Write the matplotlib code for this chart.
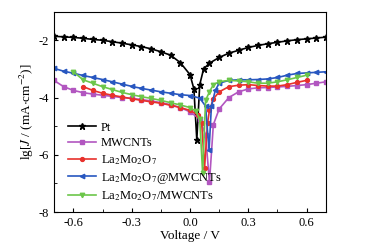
import matplotlib
matplotlib.use('Agg')
import matplotlib.pyplot as plt
from matplotlib.ticker import MultipleLocator

plt.rcParams['font.family'] = ['Liberation Serif', 'DejaVu Serif']
plt.rcParams['mathtext.fontset'] = 'stix'

# Pt
pt_v = [-0.70, -0.65, -0.60, -0.55, -0.50, -0.45, -0.40, -0.35, -0.30, -0.25, -0.20, -0.15,
        -0.10, -0.05, 0.00, 0.02, 0.035, 0.05, 0.07, 0.10, 0.15, 0.20, 0.25, 0.30, 0.35,
        0.40, 0.45, 0.50, 0.55, 0.60, 0.65, 0.70]
pt_j = [-1.86, -1.88, -1.90, -1.93, -1.97, -2.00, -2.05, -2.10, -2.16, -2.22, -2.30, -2.40,
        -2.52, -2.78, -3.20, -3.70, -5.48, -3.55, -3.00, -2.80, -2.60, -2.45, -2.35, -2.25, -2.18,
        -2.12, -2.07, -2.02, -1.98, -1.95, -1.92, -1.89]

# MWCNTs
mw_v = [-0.70, -0.65, -0.60, -0.55, -0.50, -0.45, -0.40, -0.35, -0.30, -0.25, -0.20, -0.15,
        -0.10, -0.05, 0.00, 0.05, 0.08, 0.10, 0.12, 0.15, 0.20, 0.25, 0.30, 0.35, 0.40,
        0.45, 0.50, 0.55, 0.60, 0.65, 0.70]
mw_j = [-3.40, -3.62, -3.75, -3.83, -3.88, -3.92, -3.96, -4.00, -4.03, -4.07, -4.12, -4.18,
        -4.25, -4.35, -4.50, -4.75, -5.30, -6.96, -4.95, -4.40, -4.00, -3.80, -3.70, -3.66, -3.65,
        -3.63, -3.61, -3.58, -3.55, -3.50, -3.45]

# La2Mo2O7
la_v = [-0.55, -0.50, -0.45, -0.40, -0.35, -0.30, -0.25, -0.20, -0.15, -0.10, -0.05, 0.00,
        0.04, 0.06, 0.075, 0.09, 0.10, 0.12, 0.15, 0.20, 0.25, 0.30, 0.35, 0.40, 0.45, 0.50,
        0.55, 0.60]
la_j = [-3.62, -3.75, -3.85, -3.92, -3.98, -4.04, -4.10, -4.15, -4.20, -4.27, -4.35, -4.45,
        -4.60, -4.90, -6.45, -4.90, -4.45, -4.05, -3.80, -3.62, -3.57, -3.55, -3.58, -3.60, -3.60,
        -3.55, -3.47, -3.40]

# La2Mo2O7@MWCNTs
at_v = [-0.70, -0.65, -0.60, -0.55, -0.50, -0.45, -0.40, -0.35, -0.30, -0.25, -0.20, -0.15,
        -0.10, -0.05, 0.00, 0.05, 0.08, 0.098, 0.11, 0.13, 0.15, 0.20, 0.25, 0.30, 0.35,
        0.40, 0.45, 0.50, 0.55, 0.60, 0.65, 0.70]
at_j = [-2.98, -3.08, -3.15, -3.23, -3.30, -3.37, -3.45, -3.53, -3.61, -3.68, -3.74, -3.80,
        -3.85, -3.90, -3.93, -4.02, -4.30, -5.85, -4.30, -3.75, -3.50, -3.40, -3.38, -3.38, -3.37,
        -3.35, -3.30, -3.22, -3.16, -3.14, -3.12, -3.10]

# La2Mo2O7/MWCNTs
sl_v = [-0.60, -0.55, -0.50, -0.45, -0.40, -0.35, -0.30, -0.25, -0.20, -0.15, -0.10, -0.05,
        0.00, 0.03, 0.05, 0.065, 0.08, 0.10, 0.12, 0.15, 0.20, 0.25, 0.30, 0.35, 0.40, 0.45,
        0.50, 0.55, 0.60]
sl_j = [-3.10, -3.38, -3.50, -3.62, -3.72, -3.82, -3.90, -3.97, -4.03, -4.10, -4.18, -4.26,
        -4.35, -4.48, -4.75, -6.65, -4.10, -3.80, -3.55, -3.45, -3.40, -3.42, -3.45, -3.50, -3.50,
        -3.45, -3.38, -3.30, -3.22]

series = [
    (pt_v, pt_j, 'Pt', 'black', '*', 4.5),
    (mw_v, mw_j, 'MWCNTs', '#b256c0', 's', 2.6),
    (la_v, la_j, r'La$_2$Mo$_2$O$_7$', '#e8312c', 'o', 2.8),
    (at_v, at_j, r'La$_2$Mo$_2$O$_7$@MWCNTs', '#2857c0', '<', 3.2),
    (sl_v, sl_j, r'La$_2$Mo$_2$O$_7$/MWCNTs', '#6cc64a', 'v', 3.2),
]

fig = plt.figure(figsize=(3.77, 2.48), dpi=100)
ax = fig.add_axes([0.143, 0.145, 0.722, 0.808])
for v, j, lab, col, mk, ms in series:
    ax.plot(v, j, color=col, marker=mk, markersize=ms, linewidth=1.2, label=lab)

ax.set_xlim(-0.7, 0.7)
ax.set_ylim(-8, -1)
ax.xaxis.set_minor_locator(MultipleLocator(0.15))
ax.yaxis.set_minor_locator(MultipleLocator(1))
ax.set_xticks([-0.6, -0.3, 0.0, 0.3, 0.6])
ax.set_xticklabels(['-0.6', '-0.3', '0.0', '0.3', '0.6'])
ax.set_yticks([-8, -6, -4, -2])
ax.set_yticklabels(['-8', '-6', '-4', '-2'])
ax.tick_params(which='both', direction='in', top=False, right=False, labelsize=9)
ax.tick_params(which='major', length=3)
ax.tick_params(which='minor', length=2)
ax.set_xlabel('Voltage / V', fontsize=9.5, labelpad=1)
ax.set_ylabel(r'lg[$J$ / (mA$\cdot$cm$^{-2}$)]', fontsize=9.5, labelpad=2)
ax.legend(loc='lower left', bbox_to_anchor=(0.02, 0.0), frameon=False, fontsize=9,
          handlelength=2.2, handletextpad=0.4, labelspacing=0.3, borderaxespad=0.3)

fig.savefig('out.png', dpi=100)
